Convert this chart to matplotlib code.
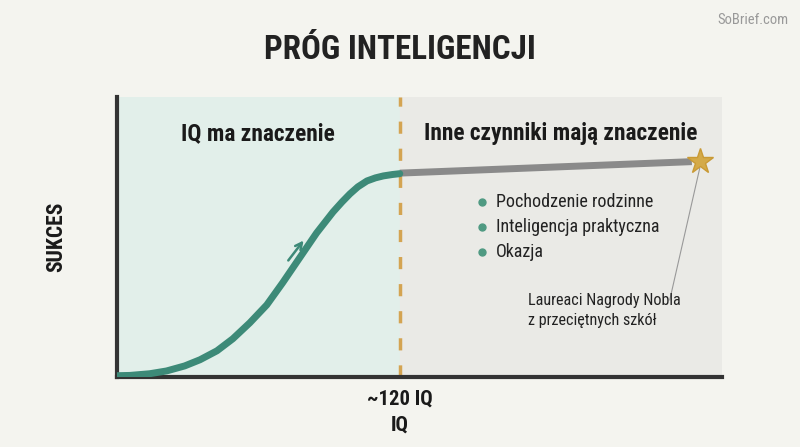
import matplotlib.pyplot as plt

plt.rcParams['font.family'] = ['Roboto Condensed', 'Barlow Condensed', 'DejaVu Sans']

# S-curve (IQ matters)
iq_curve = [70.0, 72.3, 75.8, 78.8, 82.0, 84.7, 87.7, 90.5, 93.5, 96.5, 99.3, 102.3, 105.3,
            108.2, 109.8, 111.2, 112.6, 114.2, 115.7, 117.1, 118.7, 120.0]
success_curve = [0.4, 0.5, 1.1, 2.1, 3.9, 6.1, 9.3, 13.6, 19.3, 25.7, 33.6, 42.5, 51.4,
                 58.9, 62.5, 65.4, 67.9, 70.0, 71.1, 71.8, 72.3, 72.6]
# flat part after threshold
iq_flat = [120.0, 171.6]
success_flat = [72.8, 76.9]
star_iq, star_success = 173.1, 77.0
threshold = 120
factors = ['Pochodzenie rodzinne', 'Inteligencja praktyczna', 'Okazja']

bg = '#f4f4ef'
teal = '#3d8a78'
fig = plt.figure(figsize=(8, 4.47), dpi=100, facecolor=bg)
ax = fig.add_axes([0.146, 0.157, 0.757, 0.626])
ax.set_facecolor(bg)
ax.set_xlim(70, 177)
ax.set_ylim(0, 100)

ax.axvspan(70, threshold, color='#e2efea', zorder=0)
ax.axvspan(threshold, 177, color='#eaeae6', zorder=0)
ax.axvline(threshold, color='#d4a452', lw=2.5, dashes=(3.5, 4.3), zorder=2)

ax.plot(iq_flat, success_flat, color='#8a8a8a', lw=5, solid_capstyle='butt', zorder=3)
ax.plot(iq_curve, success_curve, color=teal, lw=5, solid_capstyle='round',
        solid_joinstyle='round', zorder=4)
ax.plot(star_iq, star_success, marker='*', ms=19, color='#d4aa48', mec='#c99a35', zorder=5)

ax.annotate('', xy=(103.3, 49.5), xytext=(100.0, 40.8),
            arrowprops=dict(arrowstyle='->', color=teal, lw=1.8, mutation_scale=12))

ax.text(95, 87, 'IQ ma znaczenie', ha='center', va='center', fontsize=16.8, fontweight='bold', color='#1a1a1a')
ax.text(148.5, 87, 'Inne czynniki mają znaczenie', ha='center', va='center', fontsize=16.8, fontweight='bold', color='#1a1a1a')

for i, f in enumerate(factors):
    y = 62.5 - i * 9
    ax.plot(134.5, y, 'o', ms=5, color='#4f9a82', zorder=5)
    ax.text(137.0, y, f, ha='left', va='center', fontsize=13, color='#222222')

ax.plot([173.0, 167.7], [74.6, 27.5], color='#999999', lw=0.8, zorder=3)
ax.text(142.6, 23.7, 'Laureaci Nagrody Nobla\nz przeciętnych szkół', ha='left', va='center',
        fontsize=11.6, color='#222222', linespacing=1.4)

for s in ['top', 'right']:
    ax.spines[s].set_visible(False)
for s in ['left', 'bottom']:
    ax.spines[s].set_color('#333333')
    ax.spines[s].set_linewidth(3)
ax.set_xticks([])
ax.set_yticks([])

ax.set_ylabel('SUKCES', fontsize=15.5, fontweight='bold', color='#1a1a1a', labelpad=40)
ax.yaxis.set_label_coords(-0.081, 0.5)
fig.text(0.5, 0.108, '~120 IQ', ha='center', va='center', fontsize=14.9, fontweight='bold', color='#1a1a1a')
fig.text(0.5, 0.05, 'IQ', ha='center', va='center', fontsize=14.9, fontweight='bold', color='#1a1a1a')

fig.text(0.5, 0.888, 'PRÓG INTELIGENCJI', ha='center', va='center', fontsize=23.8, fontweight='bold', color='#222222')
fig.text(0.985, 0.955, 'SoBrief.com', ha='right', va='center', fontsize=10.5, color='#999999')

fig.savefig('out.png', dpi=100, facecolor=bg)
